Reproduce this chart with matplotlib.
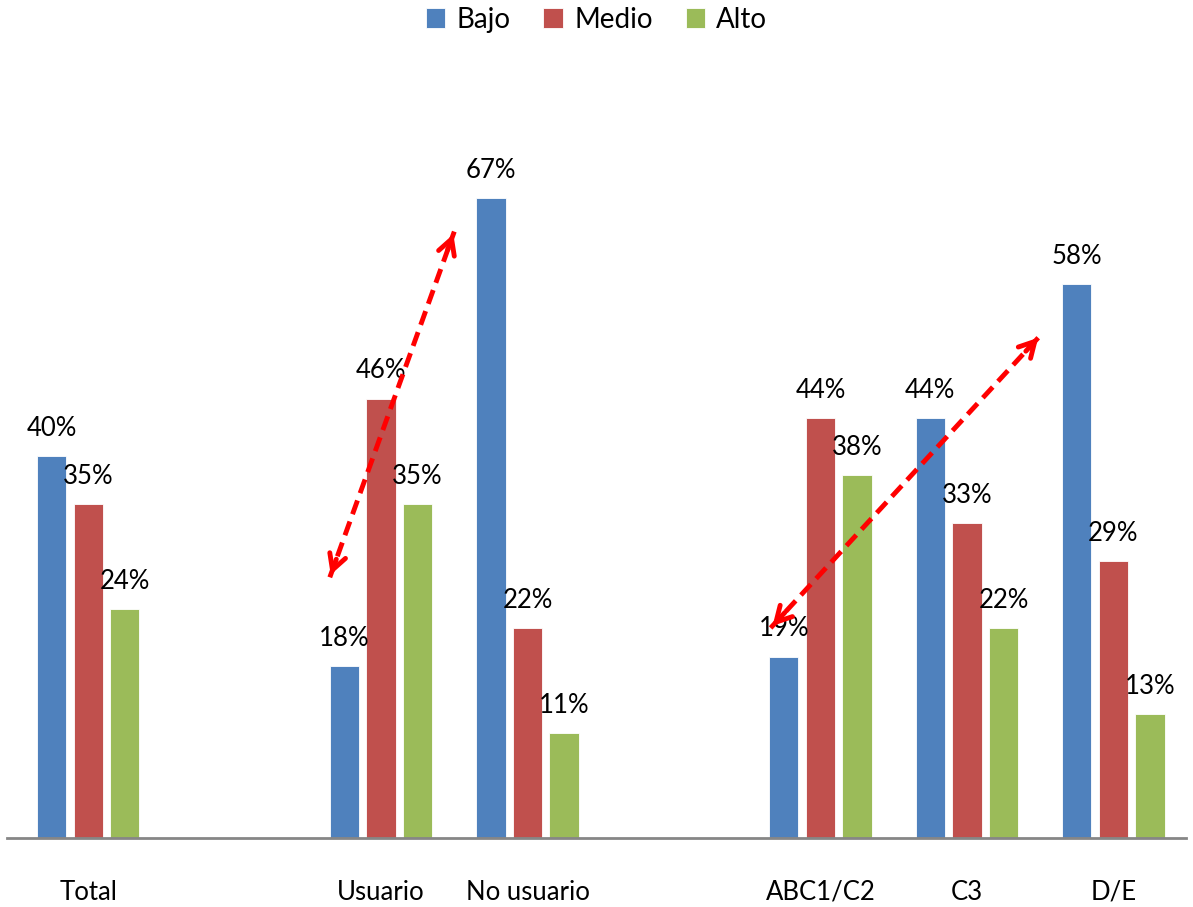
import numpy as np
import matplotlib.pyplot as plt

plt.rcParams['font.family'] = ['Lato', 'DejaVu Sans']

# 数据
categorias = ['Total', '', 'Usuario', 'No usuario', '', 'ABC1/C2', 'C3', 'D/E']
bajo = [40, None, 18, 67, None, 19, 44, 58]
medio = [35, None, 46, 22, None, 44, 33, 29]
alto = [24, None, 35, 11, None, 38, 22, 13]
series = ['Bajo', 'Medio', 'Alto']
colores = ['#4F81BD', '#C0504D', '#9BBB59']

# flechas (inicio, fin) en coordenadas de datos
flechas = [((1.65, 27.3), (2.50, 63.5)),
           ((4.66, 22.0), (6.50, 52.6))]

fig = plt.figure(figsize=(11.93, 9.07), dpi=100)
ax = fig.add_axes([0.006, 0.076, 0.988, 0.814])

x = np.arange(len(categorias))
ancho = 0.2
paso = 0.25

for i, (nombre, vals, col) in enumerate(zip(series, [bajo, medio, alto], colores)):
    idx = [k for k, v in enumerate(vals) if v is not None]
    v = [vals[k] for k in idx]
    pos = x[idx] + (i - 1) * paso
    ax.bar(pos, v, width=ancho, color=col, edgecolor='white', linewidth=0.6, label=nombre)
    for px, py in zip(pos, v):
        ax.annotate(f'{py}%', (px, py), xytext=(0, 11), textcoords='offset points',
                    ha='center', va='bottom', fontsize=18.5, color='black')

for (x0, y0), (x1, y1) in flechas:
    ax.plot([x0, x1], [y0, y1], color='red', lw=3.5, ls=(0, (3, 1.6)), zorder=5)
    dx, dy = (x1 - x0) * 0.06, (y1 - y0) * 0.06
    estilo = dict(arrowstyle='->,head_length=1.1,head_width=0.6', color='red', lw=3.5)
    ax.annotate('', xy=(x1, y1), xytext=(x1 - dx, y1 - dy), arrowprops=estilo, zorder=6)
    ax.annotate('', xy=(x0, y0), xytext=(x0 + dx, y0 + dy), arrowprops=estilo, zorder=6)

ax.set_xlim(-0.553, 7.495)
ax.set_ylim(0, 77.3)
ax.set_xticks(x)
ax.set_xticklabels(categorias, fontsize=18.5)
ax.tick_params(axis='x', length=0, pad=30)
ax.set_yticks([])
for s in ['top', 'right', 'left']:
    ax.spines[s].set_visible(False)
ax.spines['bottom'].set_color('#868686')
ax.spines['bottom'].set_linewidth(2)

fig.legend(loc='upper center', ncol=3, frameon=False, fontsize=20,
           handlelength=0.7, handleheight=0.7, handletextpad=0.4,
           columnspacing=1.2, bbox_to_anchor=(0.5, 1.02))

fig.savefig('out.png', dpi=100)
